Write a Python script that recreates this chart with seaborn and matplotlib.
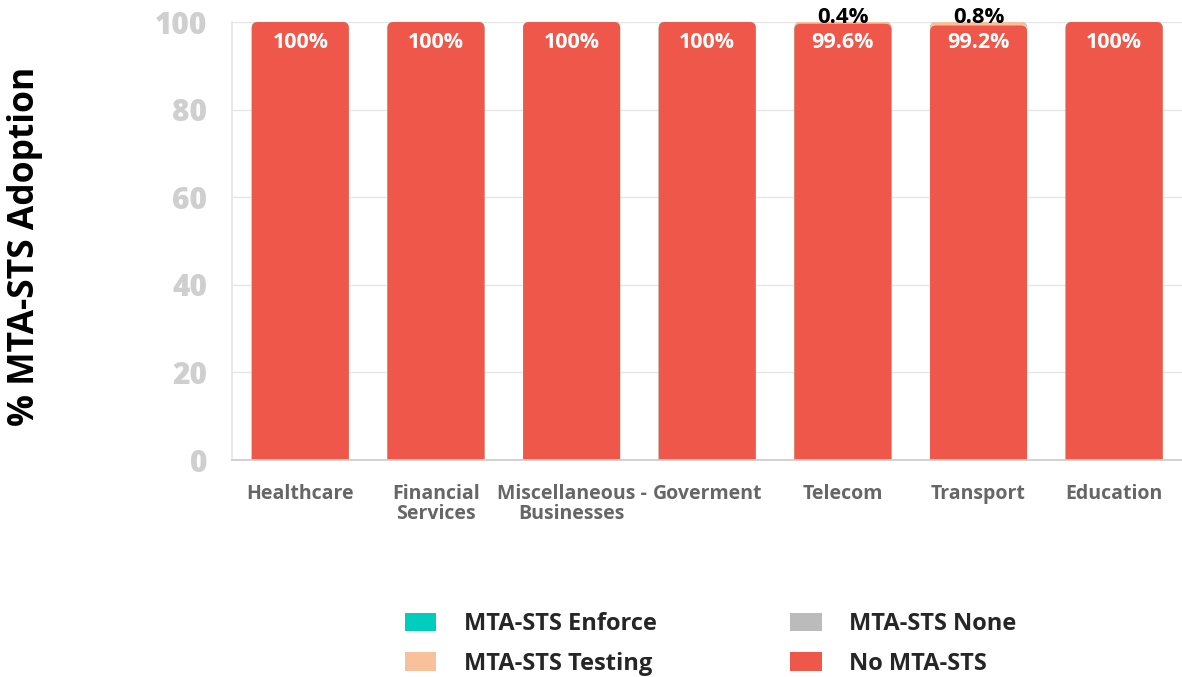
import numpy as np
import pandas as pd
import matplotlib
matplotlib.use("Agg")
import matplotlib.pyplot as plt
from matplotlib.patches import FancyBboxPatch, Patch
import seaborn as sns

# Sector names and share of domains per MTA-STS status (percent)
sectors = ["Healthcare", "Financial\nServices", "Miscellaneous -\nBusinesses",
           "Goverment", "Telecom", "Transport", "Education"]
mta_enforce = [0, 0, 0, 0, 0, 0, 0]
mta_testing = [0, 0, 0, 0, 0.4, 0.8, 0]
mta_none = [0, 0, 0, 0, 0, 0, 0]
no_mta = [100, 100, 100, 100, 99.6, 99.2, 100]

series_names = ["MTA-STS Enforce", "MTA-STS Testing", "MTA-STS None", "No MTA-STS"]
series_colors = ["#00CDBE", "#F8C19C", "#BBBBBB", "#EE574A"]
y_ticks = [0, 20, 40, 60, 80, 100]

sns.set_theme(style="white")
plt.rcParams["font.family"] = ["Open Sans", "DejaVu Sans"]

fig = plt.figure(figsize=(11.82, 6.77), dpi=100)
ax = fig.add_axes([0.1967, 0.3205, 0.8033, 0.647])

# stacking order from the bottom up: No MTA-STS, Testing, None, Enforce
layers = [("No MTA-STS", no_mta), ("MTA-STS Testing", mta_testing),
          ("MTA-STS None", mta_none), ("MTA-STS Enforce", mta_enforce)]
cum = np.zeros(len(sectors))
cum_layers = []
for name, vals in layers:
    cum = cum + np.array(vals, dtype=float)
    cum_layers.append((name, cum.copy()))

color_of = dict(zip(series_names, series_colors))
bar_w = 0.715
# draw the tallest cumulative layer first so lower layers sit on top
for name, top in reversed(cum_layers):
    df = pd.DataFrame({"sector": sectors, "value": top})
    sns.barplot(data=df, x="sector", y="value", color=color_of[name],
                width=bar_w, saturation=1, ax=ax, order=sectors)

ax.set_xlim(-0.5, 6.43)
ax.set_ylim(0, 100)

# replace plain rectangles with round-topped bars
fig.canvas.draw()
bbox = ax.get_window_extent()
px_per_x = bbox.width / (ax.get_xlim()[1] - ax.get_xlim()[0])
px_per_y = bbox.height / (ax.get_ylim()[1] - ax.get_ylim()[0])
aspect = px_per_x / px_per_y
rects = list(ax.patches)
for r in rects:
    x0, w, h = r.get_x(), r.get_width(), r.get_height()
    fc = r.get_facecolor()
    r.set_visible(False)
    fb = FancyBboxPatch((x0, -4), w, h + 4,
                        boxstyle="round,pad=0,rounding_size=0.045",
                        mutation_aspect=aspect, facecolor=fc,
                        edgecolor="none", zorder=2)
    ax.add_patch(fb)

# value labels
for i in range(len(sectors)):
    ax.annotate(f"{no_mta[i]:g}%", (i, 100), xytext=(0, -15),
                textcoords="offset points", ha="center", va="center",
                color="white", fontsize=15.5, fontweight="bold", zorder=5)
    if mta_testing[i] > 0:
        ax.annotate(f"{mta_testing[i]:g}%", (i, no_mta[i] + mta_testing[i]),
                    xytext=(0, 3), textcoords="offset points",
                    ha="center", va="center", color="black",
                    fontsize=16, fontweight="bold", zorder=5,
                    annotation_clip=False)

# axes styling
ax.set_yticks(y_ticks)
ax.set_yticklabels([str(t) for t in y_ticks], fontsize=21.5, fontweight="heavy",
                   color="#CFCFCF")
ax.yaxis.grid(True, color="#E6E6E6", linewidth=1)
ax.set_axisbelow(True)
ax.tick_params(axis="y", length=0, pad=18)
ax.set_xticks(range(len(sectors)))
ax.set_xticklabels(sectors, fontsize=14, fontweight="bold", color="#666666",
                   linespacing=1.0)
ax.tick_params(axis="x", length=0, pad=17)
ax.set_xticks(np.arange(-0.5, len(sectors), 1), minor=True)
ax.tick_params(axis="x", which="minor", length=6, color="#CCCCCC", width=1)
for side in ["top", "right"]:
    ax.spines[side].set_visible(False)
ax.spines["left"].set_color("#E6E6E6")
ax.spines["bottom"].set_color("#CCCCCC")
ax.set_xlabel("")
ax.set_ylabel("% MTA-STS Adoption", fontsize=25.5, fontweight="bold",
              color="black", labelpad=0)
ax.yaxis.set_label_coords(-0.2, 0.487)

# legend
handles = [Patch(facecolor=c, edgecolor="none") for c in series_colors]
fig.legend(handles, series_names, loc="center", ncol=2,
           bbox_to_anchor=(0.601, 0.049), frameon=False,
           prop={"size": 17, "weight": "bold"},
           handlelength=1.35, handleheight=0.85, handletextpad=1.15,
           columnspacing=5.65, labelspacing=0.65)

fig.savefig("out.png", dpi=100)
